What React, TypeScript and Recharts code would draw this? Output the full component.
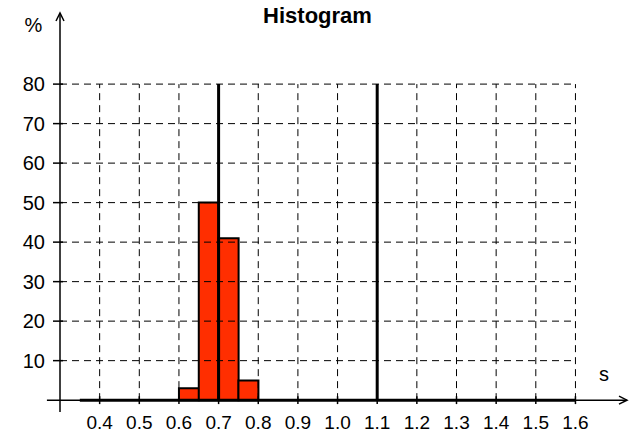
import React from "react";
import {
  ComposedChart,
  Bar,
  XAxis,
  YAxis,
  ReferenceLine,
  ReferenceDot,
} from "recharts";

const FONT = "'Liberation Sans', Arial, sans-serif";

const binCenters = [
  0.375, 0.425, 0.475, 0.525, 0.575, 0.625, 0.675, 0.725, 0.775, 0.825, 0.875,
  0.925, 0.975, 1.025, 1.075, 1.125, 1.175, 1.225, 1.275, 1.325, 1.375, 1.425,
  1.475, 1.525, 1.575,
];
const binValues = [
  0, 0, 0, 0, 0, 3, 50, 41, 5, 0, 0, 0, 0, 0, 0, 0, 0, 0, 0, 0, 0, 0, 0, 0, 0,
];
const xTicks = [0.4, 0.5, 0.6, 0.7, 0.8, 0.9, 1.0, 1.1, 1.2, 1.3, 1.4, 1.5, 1.6];
const yTicks = [10, 20, 30, 40, 50, 60, 70, 80];
const markerLines = [0.7, 1.1];

const xMin = 0.3;
const xMax = 1.73;
const yMin = -3;
const yMax = 98;
const gridXEnd = 1.6;
const gridYTop = 80;
const histStart = 0.35;

const data = binCenters.map((c, i) => ({ x: c, pct: binValues[i] }));

const YTick = (props: any) => {
  const { x, y, payload } = props;
  return (
    <text x={x} y={y} dy="0.355em" textAnchor="end" fontSize={20} fontFamily={FONT} fill="#000">
      {payload.value}
    </text>
  );
};

const XTick = (props: any) => {
  const { x, y, payload } = props;
  return (
    <text x={x} y={y} dy={17} textAnchor="middle" fontSize={19} fontFamily={FONT} fill="#000">
      {Number(payload.value).toFixed(1)}
    </text>
  );
};

const UpArrow = (props: any) => {
  const { cx, cy } = props;
  return (
    <path d={`M${cx - 4},${cy + 8} L${cx},${cy} L${cx + 4},${cy + 8}`} fill="none" stroke="#000" strokeWidth={1.5} />
  );
};

const RightArrow = (props: any) => {
  const { cx, cy } = props;
  return (
    <path d={`M${cx - 8},${cy - 4} L${cx},${cy} L${cx - 8},${cy + 4}`} fill="none" stroke="#000" strokeWidth={1.5} />
  );
};

export default function App() {
  return (
    <div style={{ position: "absolute", left: 0, top: 0, width: 629, height: 432, background: "#fff" }}>
      <ComposedChart
        width={629}
        height={432}
        data={data}
        margin={{ top: 13, right: 2, bottom: 0, left: 0 }}
        barCategoryGap={0}
        barGap={0}
      >
        <XAxis
          dataKey="x"
          type="number"
          domain={[xMin, xMax]}
          ticks={xTicks}
          allowDataOverflow
          axisLine={false}
          tickLine={false}
          tickSize={0}
          tickMargin={0}
          height={20}
          tick={<XTick />}
          interval={0}
        />
        <YAxis
          type="number"
          domain={[yMin, yMax]}
          ticks={yTicks}
          allowDataOverflow
          width={60}
          axisLine={{ stroke: "#000", strokeWidth: 1.5 }}
          tickLine={false}
          tickSize={0}
          tickMargin={15}
          tick={<YTick />}
          interval={0}
        />
        {yTicks.map((v) => (
          <ReferenceLine
            key={"h" + v}
            segment={[
              { x: xMin, y: v },
              { x: gridXEnd, y: v },
            ]}
            stroke="#000"
            strokeWidth={1}
            strokeDasharray="7 5"
            ifOverflow="visible"
          />
        ))}
        {xTicks
          .filter((v) => !markerLines.includes(v))
          .map((v) => (
            <ReferenceLine
              key={"v" + v}
              segment={[
                { x: v, y: 0 },
                { x: v, y: gridYTop },
              ]}
              stroke="#000"
              strokeWidth={1}
              strokeDasharray="7 5"
              ifOverflow="visible"
            />
          ))}
        {yTicks.map((v) => (
          <ReferenceLine
            key={"yt" + v}
            segment={[
              { x: 0.2823, y: v },
              { x: 0.3076, y: v },
            ]}
            stroke="#000"
            strokeWidth={1.5}
            ifOverflow="visible"
          />
        ))}
        <ReferenceLine
          segment={[
            { x: 0.267, y: 0 },
            { x: xMax, y: 0 },
          ]}
          stroke="#000"
          strokeWidth={1.5}
          ifOverflow="visible"
        />
        {xTicks.map((v) => (
          <ReferenceLine
            key={"xt" + v}
            segment={[
              { x: v, y: -1 },
              { x: v, y: 1 },
            ]}
            stroke="#000"
            strokeWidth={1.5}
            ifOverflow="visible"
          />
        ))}
        <Bar dataKey="pct" fill="#ff2e00" stroke="#000" strokeWidth={2} isAnimationActive={false} />
        <ReferenceLine
          segment={[
            { x: histStart, y: 0 },
            { x: gridXEnd, y: 0 },
          ]}
          stroke="#000"
          strokeWidth={3}
          ifOverflow="visible"
        />
        {markerLines.map((v) => (
          <ReferenceLine
            key={"m" + v}
            segment={[
              { x: v, y: 0 },
              { x: v, y: gridYTop },
            ]}
            stroke="#000"
            strokeWidth={3}
            ifOverflow="visible"
          />
        ))}
        <ReferenceDot x={xMin} y={yMax} r={0} shape={<UpArrow />} ifOverflow="visible" />
        <ReferenceDot x={xMax} y={0} r={0} shape={<RightArrow />} ifOverflow="visible" />
      </ComposedChart>
      <svg
        width={629}
        height={432}
        style={{ position: "absolute", left: 0, top: 0, pointerEvents: "none" }}
      >
        <text x={317.5} y={23} textAnchor="middle" fontSize={22} fontWeight="bold" fontFamily={FONT} fill="#000">
          Histogram
        </text>
        <text x={33.5} y={32} textAnchor="middle" fontSize={20} fontFamily={FONT} fill="#000">
          %
        </text>
        <text x={604} y={381} textAnchor="middle" fontSize={20} fontFamily={FONT} fill="#000">
          s
        </text>
      </svg>
    </div>
  );
}
